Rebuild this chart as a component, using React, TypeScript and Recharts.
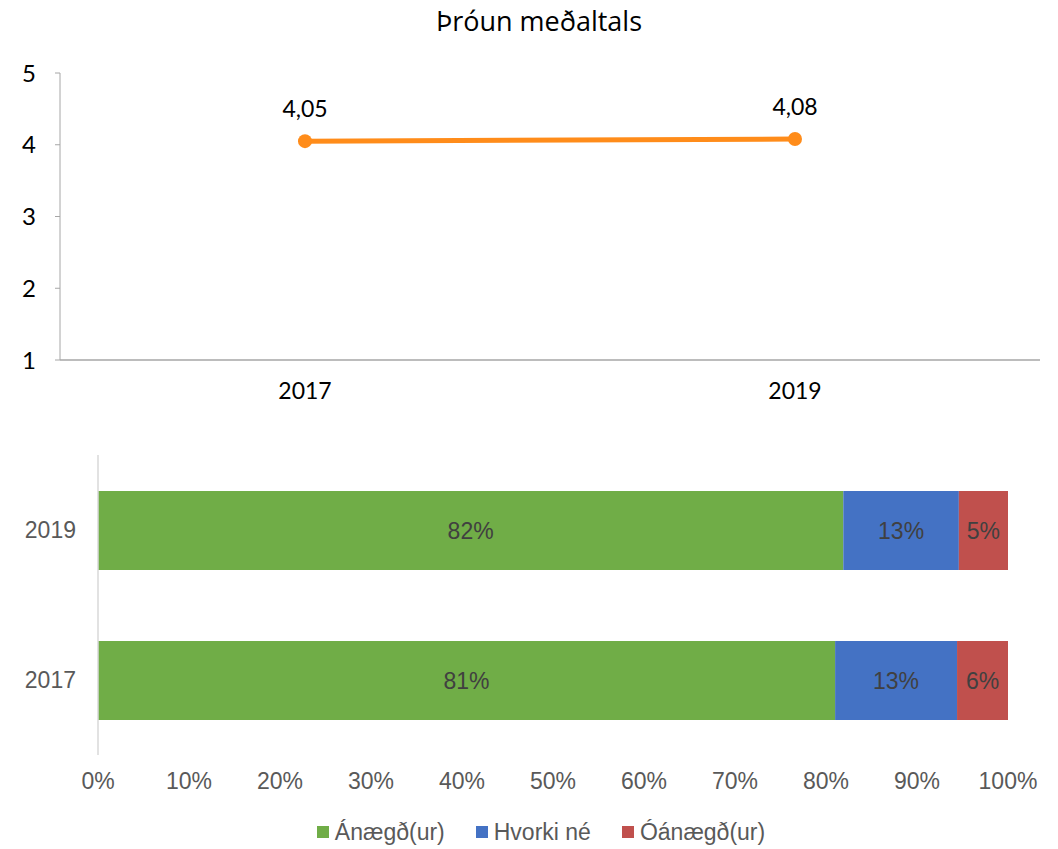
import React from "react";
import {
  LineChart, Line, XAxis, YAxis, LabelList, BarChart, Bar, Legend,
} from "recharts";

const years = ["2017", "2019"];
const averages = [4.05, 4.08];
const satisfied = [81.0, 81.9];
const neutral = [13.4, 12.7];
const dissatisfied = [5.6, 5.4];
const yTicks = [1, 2, 3, 4, 5];
const pctTicks = [0, 10, 20, 30, 40, 50, 60, 70, 80, 90, 100];
const seriesKeys = ["a", "b", "c"];
const seriesNames = ["Ánægð(ur)", "Hvorki né", "Óánægð(ur)"];
const seriesColors = ["#70AD47", "#4472C4", "#C0504D"];

const lineData = years.map((y, i) => ({ year: y, avg: averages[i] }));
const barData = years.map((y, i) => ({
  year: y,
  a: satisfied[i],
  b: neutral[i],
  c: dissatisfied[i],
}));

const topFont = "Lato, 'Open Sans', sans-serif";
const titleFont = "'Open Sans', Lato, sans-serif";
const botFont = "'Liberation Sans', Arial, sans-serif";

const fmtComma = (v: any) => Number(v).toFixed(2).replace(".", ",");
const fmtPct = (v: any) => `${Math.round(Number(v))}%`;

const LegendContent = () => (
  <div style={{ display: "flex", justifyContent: "center", paddingTop: 14, paddingLeft: 24 }}>
    {seriesNames.map((name, i) => (
      <div key={i} style={{ display: "flex", alignItems: "center", marginRight: i < seriesNames.length - 1 ? 31 : 0 }}>
        <div style={{ width: 12, height: 12, background: seriesColors[i], marginRight: 6 }} />
        <span style={{ fontFamily: botFont, fontSize: 23, color: "#595959", lineHeight: "26px" }}>{name}</span>
      </div>
    ))}
  </div>
);

export default function App() {
  return (
    <div style={{ position: "absolute", left: 0, top: 0, width: 1058, height: 849, background: "#fff" }}>
      <div
        style={{
          position: "absolute", left: 0, top: 3, width: 1078, textAlign: "center",
          fontFamily: titleFont, fontSize: 27, color: "#000", lineHeight: "36px",
        }}
      >
        Þróun meðaltals
      </div>
      <div style={{ position: "absolute", left: 0, top: 0 }}>
        <LineChart width={1058} height={420} data={lineData} margin={{ top: 73, right: 18, left: 0, bottom: 0 }}>
          <XAxis
            dataKey="year"
            height={60}
            padding={{ left: 245, right: 245 }}
            axisLine={{ stroke: "#A6A6A6", strokeWidth: 1.5 }}
            tickLine={false}
            tickMargin={17}
            tick={{ fontFamily: topFont, fontSize: 23, fill: "#000" }}
          />
          <YAxis
            width={60}
            domain={[1, 5]}
            ticks={yTicks}
            interval={0}
            axisLine={{ stroke: "#A6A6A6" }}
            tickLine={{ stroke: "#A6A6A6" }}
            tickSize={5}
            tickMargin={19}
            tick={{ fontFamily: topFont, fontSize: 24, fill: "#000" }}
          />
          <Line
            dataKey="avg"
            stroke="#FF8C1A"
            strokeWidth={5}
            dot={{ r: 7, fill: "#FF8C1A", stroke: "#FF8C1A", strokeWidth: 0 }}
            isAnimationActive={false}
          >
            <LabelList
              dataKey="avg"
              position="top"
              offset={24}
              formatter={fmtComma}
              style={{ fontFamily: topFont, fontSize: 23, fill: "#000" }}
            />
          </Line>
        </LineChart>
      </div>
      <div style={{ position: "absolute", left: 0, top: 440 }}>
        <BarChart
          width={1058}
          height={409}
          data={barData}
          layout="vertical"
          margin={{ top: 15, right: 50, left: 0, bottom: 0 }}
          barSize={79}
        >
          <XAxis
            type="number"
            domain={[0, 100]}
            ticks={pctTicks}
            interval={0}
            height={50}
            axisLine={false}
            tickLine={false}
            tickMargin={12}
            tickFormatter={(v: any) => `${v}%`}
            tick={{ fontFamily: botFont, fontSize: 23, fill: "#595959" }}
          />
          <YAxis
            type="category"
            dataKey="year"
            reversed
            width={98}
            axisLine={{ stroke: "#D9D9D9", strokeWidth: 1.5 }}
            tickLine={false}
            tickMargin={16}
            tick={{ fontFamily: botFont, fontSize: 23, fill: "#595959" }}
          />
          <Legend verticalAlign="bottom" height={44} content={<LegendContent />} wrapperStyle={{ left: 0, width: 1058 }} />
          {seriesKeys.map((k, i) => (
            <Bar key={k} dataKey={k} name={seriesNames[i]} stackId="s" fill={seriesColors[i]} isAnimationActive={false}>
              <LabelList
                dataKey={k}
                position="center"
                formatter={fmtPct}
                style={{ fontFamily: botFont, fontSize: 23, fill: "#404040" }}
              />
            </Bar>
          ))}
        </BarChart>
      </div>
    </div>
  );
}
